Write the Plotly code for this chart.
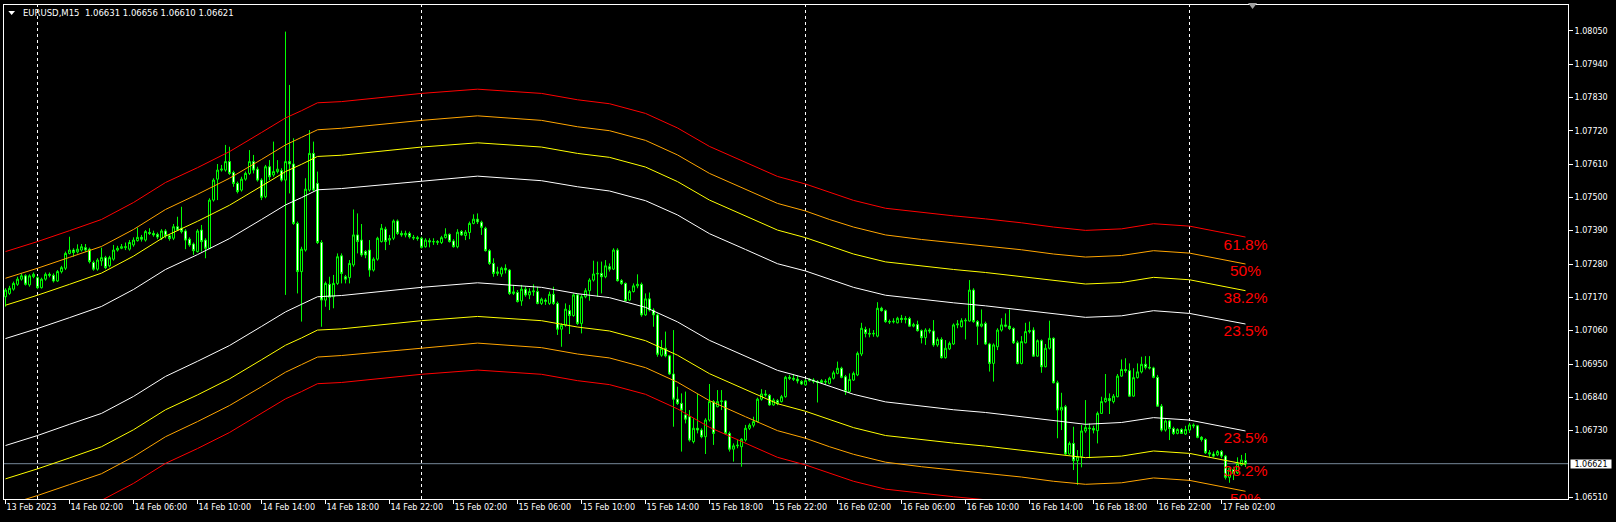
import plotly.graph_objects as go

# ---------------- data ----------------
title_text = "EURUSD,M15  1.06631 1.06656 1.06610 1.06621"
bid_price = 1.06621
bid_text = "1.06621"

open_ = [
1.07172,1.07183,1.07197,1.07213,1.07230,1.07241,1.07211,1.07238,1.07235,1.07202,
1.07230,1.07246,1.07243,1.07224,1.07255,1.07266,1.07315,1.07326,1.07320,1.07326,
1.07334,1.07329,1.07285,1.07263,1.07290,1.07301,1.07274,1.07296,1.07326,1.07332,
1.07334,1.07329,1.07343,1.07357,1.07368,1.07359,1.07384,1.07381,1.07378,1.07365,
1.07389,1.07373,1.07365,1.07403,1.07398,1.07389,1.07362,1.07346,1.07321,1.07392,
1.07359,1.07332,1.07491,1.07560,1.07590,1.07590,1.07618,1.07582,1.07546,1.07524,
1.07560,1.07579,1.07618,1.07593,1.07557,1.07502,1.07601,1.07574,1.07585,1.07588,
1.07557,1.07618,1.07610,1.07414,1.07255,1.07326,1.07524,1.07645,1.07546,1.07351,
1.07161,1.07213,1.07172,1.07216,1.07307,1.07238,1.07235,1.07277,1.07376,1.07359,
1.07321,1.07326,1.07260,1.07296,1.07354,1.07395,1.07359,1.07365,1.07422,1.07381,
1.07376,1.07381,1.07368,1.07367,1.07365,1.07337,1.07357,1.07353,1.07354,1.07351,
1.07367,1.07378,1.07356,1.07337,1.07387,1.07374,1.07384,1.07414,1.07428,1.07418,
1.07398,1.07324,1.07282,1.07249,1.07247,1.07266,1.07260,1.07183,1.07186,1.07158,
1.07197,1.07178,1.07188,1.07189,1.07150,1.07161,1.07150,1.07180,1.07150,1.07065,
1.07078,1.07126,1.07110,1.07178,1.07084,1.07172,1.07192,1.07227,1.07247,1.07249,
1.07238,1.07271,1.07263,1.07326,1.07225,1.07216,1.07161,1.07189,1.07208,1.07213,
1.07112,1.07165,1.07128,1.07112,1.06979,1.07002,1.06977,1.06917,1.06834,1.06820,
1.06782,1.06776,1.06694,1.06738,1.06732,1.06710,1.06765,1.06826,1.06809,1.06826,
1.06828,1.06721,1.06669,1.06680,1.06677,1.06699,1.06738,1.06748,1.06760,1.06834,
1.06851,1.06847,1.06815,1.06829,1.06826,1.06842,1.06906,1.06903,1.06900,1.06892,
1.06881,1.06895,1.06897,1.06892,1.06889,1.06893,1.06886,1.06903,1.06919,1.06936,
1.06908,1.06859,1.06897,1.06914,1.06983,1.07064,1.07051,1.07049,1.07042,1.07134,
1.07126,1.07090,1.07089,1.07086,1.07101,1.07097,1.07100,1.07075,1.07080,1.07060,
1.07037,1.07062,1.07059,1.07013,1.07031,1.06971,1.07000,1.07016,1.07079,1.07073,
1.07092,1.07092,1.07194,1.07090,1.07075,1.07084,1.07016,1.06952,1.07007,1.07062,
1.07079,1.07075,1.07067,1.07020,1.06952,1.07020,1.07057,1.07062,1.06976,1.07027,
1.06941,1.07002,1.07035,1.06888,1.06798,1.06809,1.06653,1.06688,1.06631,1.06644,
1.06729,1.06739,1.06737,1.06730,1.06787,1.06826,1.06836,1.06826,1.06842,1.06910,
1.06932,1.06928,1.06844,1.06905,1.06924,1.06949,1.06939,1.06937,1.06906,1.06811,
1.06732,1.06762,1.06737,1.06721,1.06734,1.06719,1.06732,1.06749,1.06746,1.06708,
1.06701,1.06657,1.06653,1.06650,1.06661,1.06646,1.06576,1.06602,1.06591,1.06617,
1.06631]

high = [
1.07200,1.07208,1.07222,1.07238,1.07249,1.07246,1.07246,1.07252,1.07241,1.07235,
1.07252,1.07252,1.07249,1.07260,1.07274,1.07321,1.07370,1.07332,1.07345,1.07346,
1.07346,1.07334,1.07291,1.07299,1.07334,1.07307,1.07307,1.07343,1.07340,1.07346,
1.07351,1.07359,1.07368,1.07400,1.07376,1.07392,1.07398,1.07390,1.07384,1.07395,
1.07395,1.07379,1.07412,1.07436,1.07469,1.07395,1.07368,1.07351,1.07395,1.07409,
1.07365,1.07497,1.07563,1.07610,1.07607,1.07673,1.07667,1.07588,1.07552,1.07568,
1.07585,1.07656,1.07640,1.07601,1.07563,1.07607,1.07623,1.07684,1.07623,1.07596,
1.08047,1.07871,1.07695,1.07420,1.07337,1.07563,1.07722,1.07684,1.07585,1.07359,
1.07222,1.07238,1.07244,1.07315,1.07315,1.07244,1.07293,1.07460,1.07447,1.07412,
1.07326,1.07359,1.07302,1.07370,1.07412,1.07403,1.07376,1.07427,1.07427,1.07390,
1.07390,1.07387,1.07376,1.07373,1.07370,1.07365,1.07365,1.07365,1.07359,1.07373,
1.07398,1.07381,1.07362,1.07395,1.07392,1.07392,1.07420,1.07444,1.07447,1.07423,
1.07403,1.07329,1.07299,1.07271,1.07271,1.07279,1.07263,1.07211,1.07194,1.07211,
1.07205,1.07200,1.07213,1.07205,1.07169,1.07167,1.07189,1.07205,1.07156,1.07084,
1.07150,1.07145,1.07183,1.07183,1.07178,1.07200,1.07233,1.07291,1.07288,1.07288,
1.07293,1.07282,1.07332,1.07332,1.07230,1.07219,1.07194,1.07216,1.07246,1.07219,
1.07183,1.07186,1.07134,1.07117,1.07029,1.07057,1.06980,1.07062,1.06875,1.06853,
1.06859,1.06798,1.06771,1.06851,1.06738,1.06771,1.06884,1.06831,1.06864,1.06864,
1.06831,1.06727,1.06688,1.06699,1.06705,1.06749,1.06754,1.06776,1.06839,1.06867,
1.06864,1.06851,1.06837,1.06834,1.06848,1.06911,1.06914,1.06917,1.06911,1.06897,
1.06900,1.06903,1.06903,1.06897,1.06900,1.06900,1.06908,1.06928,1.06958,1.06941,
1.06914,1.06919,1.06925,1.06991,1.07086,1.07073,1.07068,1.07062,1.07154,1.07139,
1.07130,1.07097,1.07101,1.07106,1.07112,1.07108,1.07106,1.07086,1.07093,1.07064,
1.07068,1.07068,1.07095,1.07038,1.07038,1.07029,1.07024,1.07084,1.07095,1.07101,
1.07101,1.07227,1.07200,1.07095,1.07130,1.07090,1.07020,1.07018,1.07068,1.07101,
1.07117,1.07130,1.07071,1.07027,1.07042,1.07086,1.07090,1.07071,1.07031,1.07031,
1.07016,1.07093,1.07038,1.06895,1.06855,1.06815,1.06694,1.06743,1.06666,1.06749,
1.06831,1.06754,1.06746,1.06793,1.06842,1.06917,1.06853,1.06851,1.06917,1.06965,
1.06969,1.06952,1.06936,1.06952,1.06974,1.06976,1.06976,1.06941,1.06914,1.06818,
1.06767,1.06765,1.06743,1.06738,1.06738,1.06746,1.06756,1.06754,1.06749,1.06712,
1.06705,1.06666,1.06661,1.06666,1.06666,1.06650,1.06611,1.06611,1.06642,1.06650,
1.06656]

low = [
1.07139,1.07178,1.07192,1.07208,1.07225,1.07209,1.07205,1.07233,1.07197,1.07199,
1.07225,1.07236,1.07219,1.07221,1.07249,1.07260,1.07312,1.07304,1.07315,1.07321,
1.07320,1.07282,1.07258,1.07258,1.07274,1.07263,1.07269,1.07291,1.07321,1.07329,
1.07326,1.07324,1.07337,1.07354,1.07354,1.07354,1.07376,1.07370,1.07362,1.07359,
1.07365,1.07357,1.07359,1.07389,1.07381,1.07329,1.07337,1.07310,1.07318,1.07321,
1.07299,1.07329,1.07486,1.07491,1.07585,1.07585,1.07574,1.07535,1.07513,1.07519,
1.07555,1.07574,1.07579,1.07552,1.07491,1.07497,1.07557,1.07568,1.07579,1.07552,
1.07178,1.07513,1.07409,1.07183,1.07090,1.07321,1.07519,1.07519,1.07346,1.07073,
1.07139,1.07128,1.07134,1.07211,1.07216,1.07216,1.07216,1.07271,1.07315,1.07304,
1.07299,1.07238,1.07255,1.07291,1.07351,1.07326,1.07343,1.07359,1.07376,1.07370,
1.07368,1.07364,1.07359,1.07357,1.07331,1.07334,1.07335,1.07343,1.07343,1.07346,
1.07364,1.07351,1.07334,1.07332,1.07373,1.07359,1.07362,1.07411,1.07412,1.07376,
1.07321,1.07277,1.07238,1.07241,1.07238,1.07249,1.07178,1.07178,1.07153,1.07142,
1.07172,1.07164,1.07175,1.07147,1.07145,1.07145,1.07145,1.07145,1.07046,1.07007,
1.07073,1.07049,1.07106,1.07079,1.07051,1.07167,1.07159,1.07222,1.07172,1.07183,
1.07233,1.07255,1.07260,1.07222,1.07211,1.07156,1.07158,1.07186,1.07200,1.07106,
1.07109,1.07123,1.07073,1.06974,1.06974,1.06972,1.06914,1.06743,1.06815,1.06661,
1.06754,1.06694,1.06688,1.06721,1.06705,1.06653,1.06760,1.06683,1.06807,1.06798,
1.06716,1.06661,1.06628,1.06672,1.06611,1.06694,1.06732,1.06741,1.06757,1.06829,
1.06842,1.06812,1.06812,1.06814,1.06823,1.06839,1.06897,1.06894,1.06886,1.06881,
1.06878,1.06892,1.06886,1.06823,1.06884,1.06881,1.06883,1.06899,1.06916,1.06903,
1.06848,1.06855,1.06894,1.06910,1.06976,1.07038,1.07038,1.07040,1.07038,1.07123,
1.07086,1.07082,1.07084,1.07084,1.07086,1.07084,1.07073,1.07071,1.07057,1.07018,
1.07013,1.07051,1.07007,1.07007,1.06968,1.06968,1.06996,1.07013,1.07068,1.07071,
1.07031,1.07090,1.07086,1.07013,1.07071,1.07013,1.06925,1.06892,1.06996,1.07057,
1.07071,1.07062,1.07016,1.06949,1.06949,1.07018,1.07051,1.06974,1.06974,1.06921,
1.06939,1.06998,1.06886,1.06705,1.06732,1.06650,1.06650,1.06600,1.06551,1.06609,
1.06723,1.06639,1.06721,1.06688,1.06785,1.06822,1.06785,1.06820,1.06840,1.06908,
1.06921,1.06842,1.06842,1.06902,1.06919,1.06932,1.06932,1.06903,1.06809,1.06727,
1.06727,1.06699,1.06716,1.06718,1.06719,1.06716,1.06723,1.06738,1.06705,1.06694,
1.06653,1.06644,1.06642,1.06646,1.06639,1.06569,1.06558,1.06567,1.06587,1.06613,
1.06610]

close = [
1.07194,1.07200,1.07216,1.07230,1.07241,1.07213,1.07241,1.07246,1.07202,1.07230,
1.07246,1.07243,1.07224,1.07255,1.07268,1.07315,1.07326,1.07318,1.07329,1.07337,
1.07326,1.07288,1.07263,1.07293,1.07301,1.07268,1.07301,1.07326,1.07332,1.07337,
1.07337,1.07351,1.07359,1.07368,1.07362,1.07387,1.07381,1.07376,1.07369,1.07389,
1.07373,1.07364,1.07403,1.07392,1.07387,1.07359,1.07343,1.07324,1.07389,1.07354,
1.07332,1.07491,1.07557,1.07590,1.07593,1.07618,1.07579,1.07546,1.07519,1.07560,
1.07579,1.07618,1.07590,1.07557,1.07500,1.07601,1.07568,1.07585,1.07593,1.07557,
1.07618,1.07610,1.07414,1.07255,1.07329,1.07527,1.07645,1.07524,1.07351,1.07161,
1.07216,1.07170,1.07216,1.07304,1.07249,1.07230,1.07282,1.07376,1.07354,1.07310,
1.07310,1.07260,1.07296,1.07365,1.07398,1.07354,1.07364,1.07422,1.07381,1.07376,
1.07381,1.07370,1.07366,1.07364,1.07335,1.07359,1.07353,1.07354,1.07352,1.07367,
1.07378,1.07354,1.07337,1.07385,1.07376,1.07385,1.07414,1.07428,1.07419,1.07401,
1.07324,1.07282,1.07249,1.07254,1.07266,1.07260,1.07183,1.07188,1.07156,1.07197,
1.07178,1.07189,1.07191,1.07150,1.07164,1.07157,1.07180,1.07150,1.07065,1.07078,
1.07131,1.07110,1.07178,1.07084,1.07172,1.07192,1.07227,1.07247,1.07249,1.07238,
1.07274,1.07263,1.07326,1.07225,1.07216,1.07159,1.07189,1.07208,1.07213,1.07112,
1.07165,1.07128,1.07112,1.06982,1.07002,1.06977,1.06917,1.06834,1.06820,1.06798,
1.06768,1.06699,1.06738,1.06732,1.06710,1.06765,1.06826,1.06721,1.06826,1.06828,
1.06721,1.06669,1.06680,1.06682,1.06702,1.06738,1.06748,1.06760,1.06834,1.06851,
1.06848,1.06815,1.06831,1.06820,1.06842,1.06906,1.06903,1.06900,1.06894,1.06884,
1.06895,1.06900,1.06893,1.06889,1.06895,1.06891,1.06903,1.06921,1.06936,1.06906,
1.06859,1.06899,1.06919,1.06985,1.07068,1.07051,1.07049,1.07051,1.07134,1.07126,
1.07090,1.07089,1.07091,1.07101,1.07097,1.07100,1.07075,1.07080,1.07060,1.07037,
1.07062,1.07059,1.07013,1.07031,1.06971,1.07002,1.07018,1.07079,1.07082,1.07093,
1.07094,1.07194,1.07090,1.07075,1.07082,1.07016,1.06952,1.07013,1.07062,1.07079,
1.07075,1.07067,1.07020,1.06952,1.07024,1.07057,1.07060,1.06976,1.07027,1.06941,
1.07002,1.07035,1.06888,1.06798,1.06807,1.06653,1.06688,1.06631,1.06644,1.06729,
1.06740,1.06737,1.06732,1.06787,1.06826,1.06837,1.06829,1.06844,1.06910,1.06932,
1.06928,1.06844,1.06905,1.06924,1.06949,1.06939,1.06937,1.06906,1.06811,1.06732,
1.06762,1.06737,1.06721,1.06734,1.06721,1.06734,1.06749,1.06746,1.06708,1.06701,
1.06657,1.06653,1.06646,1.06661,1.06646,1.06576,1.06606,1.06589,1.06622,1.06633,
1.06621]

# band indicator lines, read at these bar indices
band_bars = [0, 8, 16, 24, 32, 40, 48, 56, 64, 70, 74, 78, 84, 96, 104, 118, 134, 143, 151,
             160, 168, 176, 185, 193, 200, 206, 212, 220, 229, 237, 245, 254, 262, 270,
             279, 287, 296, 304, 310]
red_up = [1.07321,1.07354,1.07390,1.07427,1.07483,1.07549,1.07598,1.07651,1.07714,1.07762,
          1.07786,1.07812,1.07816,1.07831,1.07843,1.07857,1.07843,1.07822,1.07809,1.07777,
          1.07729,1.07668,1.07615,1.07569,1.07544,1.07516,1.07490,1.07464,1.07450,1.07439,
          1.07429,1.07416,1.07402,1.07391,1.07396,1.07413,1.07405,1.07383,1.07369]
orange_up = [1.07233,1.07266,1.07302,1.07338,1.07394,1.07460,1.07510,1.07563,1.07625,1.07673,
             1.07698,1.07723,1.07728,1.07743,1.07754,1.07769,1.07754,1.07733,1.07720,1.07688,
             1.07640,1.07579,1.07526,1.07480,1.07455,1.07427,1.07402,1.07376,1.07361,1.07350,
             1.07341,1.07327,1.07313,1.07303,1.07308,1.07324,1.07316,1.07294,1.07280]
yellow_up = [1.07144,1.07177,1.07213,1.07250,1.07306,1.07372,1.07421,1.07474,1.07537,1.07585,
             1.07609,1.07635,1.07639,1.07654,1.07666,1.07680,1.07666,1.07645,1.07632,1.07600,
             1.07552,1.07491,1.07438,1.07392,1.07367,1.07339,1.07313,1.07287,1.07273,1.07262,
             1.07252,1.07239,1.07225,1.07214,1.07219,1.07236,1.07228,1.07206,1.07192]
white_up = [1.07034,1.07067,1.07103,1.07140,1.07196,1.07262,1.07311,1.07364,1.07427,1.07475,
            1.07499,1.07525,1.07529,1.07544,1.07555,1.07570,1.07555,1.07535,1.07521,1.07489,
            1.07442,1.07380,1.07328,1.07281,1.07257,1.07229,1.07203,1.07177,1.07163,1.07152,
            1.07142,1.07129,1.07115,1.07104,1.07109,1.07126,1.07117,1.07096,1.07082]
white_lo = [1.06681,1.06714,1.06751,1.06787,1.06843,1.06909,1.06959,1.07011,1.07074,1.07122,
            1.07147,1.07172,1.07176,1.07191,1.07203,1.07218,1.07203,1.07182,1.07169,1.07137,
            1.07089,1.07028,1.06975,1.06929,1.06904,1.06876,1.06850,1.06825,1.06810,1.06799,
            1.06790,1.06776,1.06762,1.06751,1.06757,1.06773,1.06765,1.06743,1.06729]
yellow_lo = [1.06571,1.06604,1.06640,1.06677,1.06733,1.06799,1.06848,1.06901,1.06964,1.07012,
             1.07036,1.07062,1.07066,1.07081,1.07093,1.07107,1.07093,1.07072,1.07059,1.07027,
             1.06979,1.06918,1.06865,1.06819,1.06794,1.06766,1.06740,1.06714,1.06700,1.06689,
             1.06679,1.06666,1.06652,1.06641,1.06646,1.06663,1.06655,1.06633,1.06619]
orange_lo = [1.06483,1.06516,1.06552,1.06588,1.06644,1.06710,1.06760,1.06813,1.06875,1.06923,
             1.06948,1.06973,1.06978,1.06993,1.07004,1.07019,1.07004,1.06983,1.06970,1.06938,
             1.06890,1.06829,1.06776,1.06730,1.06705,1.06677,1.06652,1.06626,1.06611,1.06600,
             1.06591,1.06577,1.06563,1.06553,1.06558,1.06574,1.06566,1.06544,1.06530]
red_lo = [1.06394,1.06427,1.06463,1.06500,1.06556,1.06622,1.06671,1.06724,1.06787,1.06835,
          1.06859,1.06885,1.06889,1.06904,1.06916,1.06930,1.06916,1.06895,1.06882,1.06850,
          1.06802,1.06741,1.06688,1.06642,1.06617,1.06589,1.06563,1.06537,1.06523,1.06512,
          1.06502,1.06489,1.06475,1.06464,1.06469,1.06486,1.06478,1.06456,1.06442]

level_labels = ["61.8%", "50%", "38.2%", "23.5%", "23.5%", "38.2%", "50%", "61.8%"]
level_label_prices = [1.07340, 1.07254, 1.07165, 1.07055, 1.06703, 1.06592, 1.06501, 1.06415]

x_tick_bars = [0, 16, 32, 48, 64, 80, 96, 112, 128, 144, 160, 176, 192, 208, 224, 240, 256, 272, 288, 304]
x_tick_labels = ["13 Feb 2023", "14 Feb 02:00", "14 Feb 06:00", "14 Feb 10:00", "14 Feb 14:00",
                 "14 Feb 18:00", "14 Feb 22:00", "15 Feb 02:00", "15 Feb 06:00", "15 Feb 10:00",
                 "15 Feb 14:00", "15 Feb 18:00", "15 Feb 22:00", "16 Feb 02:00", "16 Feb 06:00",
                 "16 Feb 10:00", "16 Feb 14:00", "16 Feb 18:00", "16 Feb 22:00", "17 Feb 02:00"]
y_tick_vals = [1.08050, 1.07940, 1.07830, 1.07720, 1.07610, 1.07500, 1.07390, 1.07280,
               1.07170, 1.07060, 1.06950, 1.06840, 1.06730, 1.06510]
y_tick_labels = ["1.08050", "1.07940", "1.07830", "1.07720", "1.07610", "1.07500", "1.07390",
                 "1.07280", "1.07170", "1.07060", "1.06950", "1.06840", "1.06730", "1.06510"]
day_separator_bars = [8, 104, 200, 296]

# ---------------- figure ----------------
bars = list(range(len(close)))
AXFONT = dict(family="DejaVu Sans", size=8, color="#ffffff")

fig = go.Figure()

fig.add_trace(go.Scatter(
    x=[bars[-1]] * len(level_labels), y=level_label_prices, mode="text", text=level_labels,
    textposition="middle center",
    textfont=dict(family="Liberation Sans Narrow, Arial Narrow, Liberation Sans", size=15.5, color="#ff0000"),
    hoverinfo="skip", showlegend=False))

fig.add_trace(go.Candlestick(
    x=bars, open=open_, high=high, low=low, close=close,
    increasing=dict(line=dict(color="#00ff00", width=1), fillcolor="#000000"),
    decreasing=dict(line=dict(color="#00ff00", width=1), fillcolor="#ffffff"),
    whiskerwidth=0, showlegend=False, hoverinfo="skip"))

for series, col in [(red_up, "#ff0000"), (orange_up, "#ffa500"), (yellow_up, "#ffff00"),
                    (white_up, "#ffffff"), (white_lo, "#ffffff"), (yellow_lo, "#ffff00"),
                    (orange_lo, "#ffa500"), (red_lo, "#ff0000")]:
    fig.add_trace(go.Scatter(x=band_bars, y=series, mode="lines",
                             line=dict(color=col, width=1), hoverinfo="skip", showlegend=False))

shapes = []
for b in day_separator_bars:
    shapes.append(dict(type="line", xref="x", yref="paper", x0=b, x1=b, y0=0, y1=1,
                       line=dict(color="#ffffff", width=1, dash="3px,3px"), layer="below"))
shapes.append(dict(type="line", xref="paper", yref="y", x0=0, x1=1, y0=bid_price, y1=bid_price,
                   line=dict(color="#778899", width=1), layer="below"))
# small menu triangle before the title
shapes.append(dict(type="path", xref="paper", yref="paper", xsizemode="pixel", ysizemode="pixel",
                   xanchor=0, yanchor=1, path="M 4.3,-6 L 11,-6 L 7.65,-10 Z",
                   fillcolor="#ffffff", line=dict(width=0)))
# chart-shift marker on the top border
shapes.append(dict(type="path", xref="paper", yref="paper", xsizemode="pixel", ysizemode="pixel",
                   xanchor=0.7983, yanchor=1, path="M -4.5,2 L 4.5,2 L 0,-4 Z",
                   fillcolor="#a0a0a0", line=dict(width=0)))

annotations = [
    dict(text=title_text, xref="paper", yref="paper", x=0, y=1, xshift=16.7, yshift=-7.5,
         xanchor="left", yanchor="middle", showarrow=False,
         font=dict(family="DejaVu Sans", size=8.5, color="#ffffff")),
    dict(text=bid_text, xref="paper", yref="y", x=1, y=bid_price, xshift=2, xanchor="left",
         yanchor="middle", showarrow=False, bgcolor="#ffffff", width=40, height=8, borderpad=0,
         font=dict(family="DejaVu Sans", size=8, color="#000000")),
]

fig.update_layout(
    width=1616, height=522,
    margin=dict(l=4, r=48, t=5, b=23),
    paper_bgcolor="#000000", plot_bgcolor="#000000",
    showlegend=False, hovermode=False,
    boxgap=0.5, boxgroupgap=0,
    shapes=shapes, annotations=annotations,
    xaxis=dict(range=[-0.375, 390.625], rangeslider=dict(visible=False), showgrid=False,
               zeroline=False, tickmode="array", tickvals=x_tick_bars, ticktext=x_tick_labels,
               ticks="outside", ticklen=4, tickcolor="#ffffff", tickwidth=1,
               ticklabelposition="outside right", tickfont=AXFONT,
               showline=True, linecolor="#ffffff", linewidth=1, mirror=True, fixedrange=True),
    yaxis=dict(side="right", range=[1.065045, 1.081348], showgrid=False, zeroline=False,
               tickmode="array", tickvals=y_tick_vals, ticktext=y_tick_labels,
               ticks="outside", ticklen=4, tickcolor="#ffffff", tickwidth=1, tickfont=AXFONT,
               showline=True, linecolor="#ffffff", linewidth=1, mirror=True, fixedrange=True),
)

fig.write_html("out.html",
               post_script="document.body.style.margin='0px';document.body.style.background='#000000';",
               config={"displayModeBar": False})
